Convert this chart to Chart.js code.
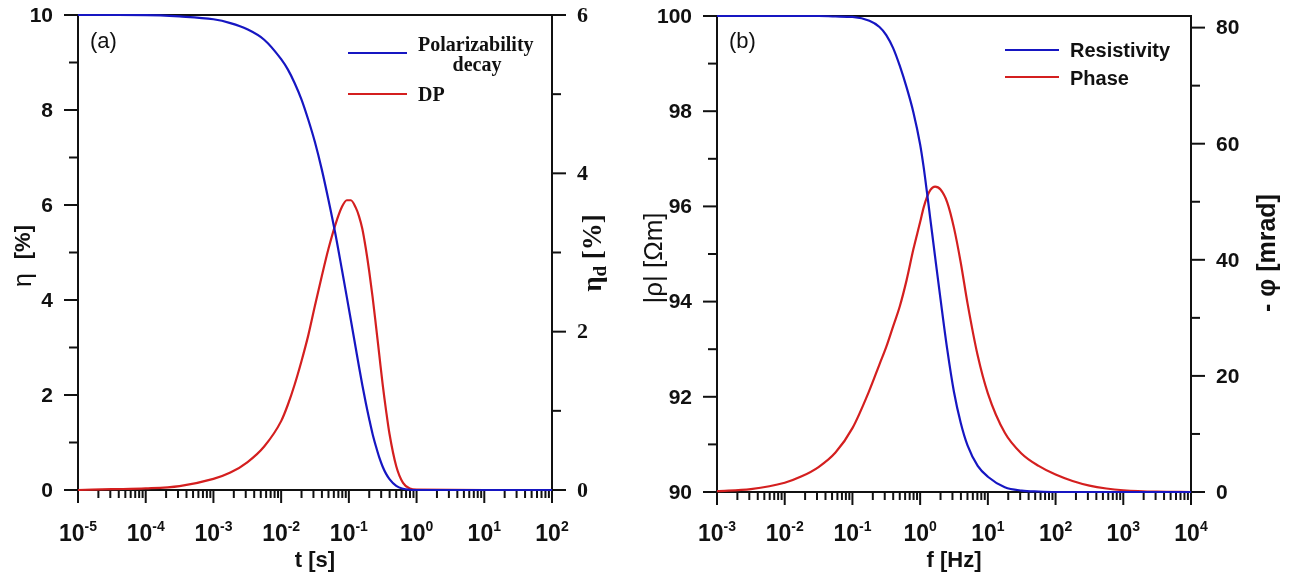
<!DOCTYPE html>
<html>
<head>
<meta charset="utf-8">
<script src="https://cdn.jsdelivr.net/npm/chart.js@4.4.1/dist/chart.umd.min.js"></script>
<style>
  html, body { margin: 0; padding: 0; background: #fff; }
  #wrap { position: relative; width: 1290px; height: 577px; overflow: hidden; }
  canvas { position: absolute; top: 0; }
  #cA { left: 0; }
  #cB { left: 630px; }
</style>
</head>
<body>
<div id="wrap">
  <canvas id="cA" width="630" height="577"></canvas>
  <canvas id="cB" width="660" height="577"></canvas>
</div>
<script>
// ---- (a) time domain: polarizability decay and DP ----
const tSec = [1e-5, 3.16e-5, 1e-4, 3.16e-4, 1e-3, 1.78e-3, 3.16e-3, 5.62e-3, 0.01, 0.0126,
  0.0158, 0.02, 0.0251, 0.0316, 0.0398, 0.0501, 0.0631, 0.0794, 0.0933, 0.107,
  0.126, 0.141, 0.158, 0.178, 0.2, 0.224, 0.251, 0.282, 0.316, 0.355,
  0.398, 0.501, 0.631, 0.794, 1, 10, 100];
const etaDecay = [10, 10, 9.999, 9.97, 9.91, 9.83, 9.7, 9.48, 9.07, 8.85,
  8.57, 8.22, 7.8, 7.32, 6.75, 6.1, 5.4, 4.62, 4.06, 3.58,
  3.0, 2.6, 2.21, 1.83, 1.49, 1.18, 0.92, 0.68, 0.49, 0.34,
  0.23, 0.085, 0.025, 0.005, 0, 0, 0];
const etaDP = [0, 0.01, 0.02, 0.05, 0.14, 0.22, 0.35, 0.55, 0.87, 1.08,
  1.33, 1.63, 1.95, 2.33, 2.7, 3.05, 3.35, 3.58, 3.66, 3.66,
  3.57, 3.46, 3.3, 3.05, 2.76, 2.44, 2.08, 1.7, 1.33, 1.0,
  0.71, 0.3, 0.09, 0.02, 0.004, 0, 0];

// ---- (b) frequency domain: resistivity amplitude and phase ----
const fHz = [1e-3, 3.16e-3, 0.01, 0.0178, 0.0316, 0.0562, 0.1, 0.178, 0.251, 0.316,
  0.398, 0.501, 0.631, 0.794, 1, 1.12, 1.26, 1.41, 1.66, 2.0,
  2.51, 3.16, 3.98, 5.01, 7.08, 10, 17.8, 31.6, 56.2, 100,
  178, 316, 562, 1000, 3162, 10000];
const rhoAbs = [100, 100, 100, 100, 100, 99.99, 99.98, 99.9, 99.77, 99.6,
  99.33, 98.95, 98.5, 97.98, 97.3, 96.85, 96.3, 95.75, 94.95, 94.05,
  93.0, 92.1, 91.45, 90.98, 90.55, 90.32, 90.1, 90.03, 90.01, 90,
  90, 90, 90, 90, 90, 90];
const phaseNeg = [0.15, 0.5, 1.6, 2.7, 4.3, 6.8, 11, 17.5, 22, 25,
  28.5, 32, 36.5, 41.8, 46.5, 48.9, 50.8, 52, 52.6, 52.1,
  49.9, 45.5, 39.5, 32.5, 23.5, 17, 10.2, 6.6, 4.5, 3.0,
  1.9, 1.1, 0.6, 0.3, 0.05, 0];

// ---- axis ticks ----
const tDecades = [-5, -4, -3, -2, -1, 0, 1, 2];
const fDecades = [-3, -2, -1, 0, 1, 2, 3, 4];
const etaTicks = [0, 2, 4, 6, 8, 10];
const etaDTicks = [0, 2, 4, 6];
const rhoTicks = [90, 92, 94, 96, 98, 100];
const phiTicks = [0, 20, 40, 60, 80];

const BLUE = '#1616c2';
const RED = '#d41f1f';
const INK = '#111';
const SANS = '"Liberation Sans", Arial, sans-serif';
const SERIF = '"Liberation Serif", "Times New Roman", serif';

const pairs = (xs, ys) => xs.map((x, i) => ({ x, y: ys[i] }));

function seg(ctx, x1, y1, x2, y2) {
  ctx.beginPath();
  ctx.moveTo(x1, y1);
  ctx.lineTo(x2, y2);
  ctx.stroke();
}

// text runs: [[text, font, dy], ...] drawn one after the other
function runs(ctx, parts, x, y, align) {
  let w = 0;
  parts.forEach(p => { ctx.font = p[1]; w += ctx.measureText(p[0]).width; });
  let cx = align === 'center' ? x - w / 2 : x;
  ctx.textAlign = 'left';
  parts.forEach(p => {
    ctx.font = p[1];
    ctx.fillText(p[0], cx, y + (p[2] || 0));
    cx += ctx.measureText(p[0]).width;
  });
}

function rotated(ctx, parts, cx, cy) {
  ctx.save();
  ctx.translate(cx, cy);
  ctx.rotate(-Math.PI / 2);
  ctx.textBaseline = 'middle';
  runs(ctx, parts, 0, 0, 'center');
  ctx.restore();
}

function yAxis(ctx, scale, a, ticks, side, labelFont) {
  const x0 = side === 'left' ? a.left : a.right;
  const dir = side === 'left' ? -1 : 1;
  for (let i = 0; i < ticks.length; i++) {
    const y = scale.getPixelForValue(ticks[i]);
    seg(ctx, x0, y, x0 + dir * 14, y);
    if (i < ticks.length - 1) {
      const ym = scale.getPixelForValue((ticks[i] + ticks[i + 1]) / 2);
      seg(ctx, x0, ym, x0 + dir * 9, ym);
    }
    ctx.font = labelFont;
    ctx.textAlign = side === 'left' ? 'right' : 'left';
    ctx.textBaseline = 'middle';
    ctx.fillText(String(ticks[i]), x0 + dir * 25, y + 1);
  }
}

function xLogAxis(ctx, scale, a, decades) {
  const y0 = a.bottom;
  decades.forEach((e, i) => {
    const x = scale.getPixelForValue(Math.pow(10, e));
    seg(ctx, x, y0, x, y0 + 13);
    if (i < decades.length - 1) {
      for (let k = 2; k <= 9; k++) {
        const xm = scale.getPixelForValue(k * Math.pow(10, e));
        seg(ctx, xm, y0, xm, y0 + 8);
      }
    }
    ctx.textBaseline = 'alphabetic';
    runs(ctx, [['10', 'bold 23px ' + SANS, 0], [String(e), 'bold 14px ' + SANS, -10]], x, 541, 'center');
  });
}

function framePlugin(cfg) {
  return {
    id: 'frame' + cfg.key,
    beforeDatasetsDraw(chart) {
      const { ctx, chartArea: a, scales } = chart;
      ctx.save();
      ctx.strokeStyle = INK;
      ctx.fillStyle = INK;
      ctx.lineWidth = 2;
      ctx.strokeRect(a.left, a.top, a.right - a.left, a.bottom - a.top);
      yAxis(ctx, scales.y, a, cfg.leftTicks, 'left', 'bold 21px ' + SANS);
      yAxis(ctx, scales.y2, a, cfg.rightTicks, 'right', cfg.rightFont);
      xLogAxis(ctx, scales.x, a, cfg.decades);

      // axis titles
      ctx.textBaseline = 'alphabetic';
      runs(ctx, [[cfg.xTitle, 'bold 22px ' + SANS]], (a.left + a.right) / 2, 567, 'center');
      rotated(ctx, cfg.leftTitle, cfg.leftTitleX - cfg.ox, cfg.leftTitleY);
      rotated(ctx, cfg.rightTitle, cfg.rightTitleX - cfg.ox, cfg.rightTitleY);

      // panel letter
      ctx.font = '22px ' + SANS;
      ctx.textAlign = 'left';
      ctx.fillText(cfg.letter, a.left + 12, 48);

      // legend
      ctx.lineWidth = 2;
      cfg.legend.forEach(item => {
        ctx.strokeStyle = item.color;
        seg(ctx, item.x1 - cfg.ox, item.y, item.x2 - cfg.ox, item.y);
        ctx.fillStyle = INK;
        ctx.font = item.font;
        item.lines.forEach(l => {
          ctx.textAlign = l.align || 'left';
          ctx.fillText(l.text, l.x - cfg.ox, l.y);
        });
      });
      ctx.restore();
    }
  };
}

function lineSet(data, color, axis) {
  return {
    data, yAxisID: axis, borderColor: color, borderWidth: 2.2,
    pointRadius: 0, fill: false, cubicInterpolationMode: 'monotone', clip: 6
  };
}

function baseOptions(pad, xr, yr, y2r) {
  return {
    responsive: false,
    animation: false,
    events: [],
    layout: { padding: pad },
    plugins: { legend: { display: false }, tooltip: { enabled: false } },
    scales: {
      x: { type: 'logarithmic', min: xr[0], max: xr[1], display: false },
      y: { type: 'linear', min: yr[0], max: yr[1], display: false },
      y2: { type: 'linear', position: 'right', min: y2r[0], max: y2r[1], display: false }
    }
  };
}

// panel (a)
new Chart(document.getElementById('cA'), {
  type: 'line',
  data: {
    datasets: [
      lineSet(pairs(tSec, etaDecay), BLUE, 'y'),
      lineSet(pairs(tSec, etaDP), RED, 'y2')
    ]
  },
  options: baseOptions({ left: 78, top: 15, right: 78, bottom: 87 }, [1e-5, 1e2], [0, 10], [0, 6]),
  plugins: [framePlugin({
    key: 'A', ox: 0, letter: '(a)',
    leftTicks: etaTicks, rightTicks: etaDTicks, decades: tDecades,
    rightFont: 'bold 22px ' + SERIF,
    xTitle: 't [s]',
    leftTitleX: 24, leftTitleY: 256,
    leftTitle: [['\u03b7  ', '25px ' + SANS], ['[%]', 'bold 22px ' + SANS]],
    rightTitleX: 594, rightTitleY: 253,
    rightTitle: [['\u03b7', 'bold 27px ' + SERIF], ['d', 'bold 19px ' + SERIF, 7], [' [%]', 'bold 27px ' + SERIF]],
    legend: [
      { color: BLUE, x1: 348, x2: 407, y: 53, font: 'bold 20px ' + SERIF,
        lines: [{ text: 'Polarizability', x: 418, y: 51 }, { text: 'decay', x: 477, y: 71, align: 'center' }] },
      { color: RED, x1: 348, x2: 407, y: 94, font: 'bold 20px ' + SERIF,
        lines: [{ text: 'DP', x: 418, y: 101 }] }
    ]
  })]
});

// panel (b)
new Chart(document.getElementById('cB'), {
  type: 'line',
  data: {
    datasets: [
      lineSet(pairs(fHz, rhoAbs), BLUE, 'y'),
      lineSet(pairs(fHz, phaseNeg), RED, 'y2')
    ]
  },
  options: baseOptions({ left: 87, top: 16, right: 99, bottom: 85 }, [1e-3, 1e4], [90, 100], [0, 82]),
  plugins: [framePlugin({
    key: 'B', ox: 630, letter: '(b)',
    leftTicks: rhoTicks, rightTicks: phiTicks, decades: fDecades,
    rightFont: 'bold 21px ' + SANS,
    xTitle: 'f [Hz]',
    leftTitleX: 655, leftTitleY: 258,
    leftTitle: [['|\u03c1| [\u03a9m]', '26px ' + SANS]],
    rightTitleX: 1268, rightTitleY: 253,
    rightTitle: [['- \u03c6 [mrad]', 'bold 25px ' + SANS]],
    legend: [
      { color: BLUE, x1: 1005, x2: 1059, y: 50, font: 'bold 20px ' + SANS,
        lines: [{ text: 'Resistivity', x: 1070, y: 57 }] },
      { color: RED, x1: 1005, x2: 1059, y: 77, font: 'bold 20px ' + SANS,
        lines: [{ text: 'Phase', x: 1070, y: 85 }] }
    ]
  })]
});
</script>
</body>
</html>
